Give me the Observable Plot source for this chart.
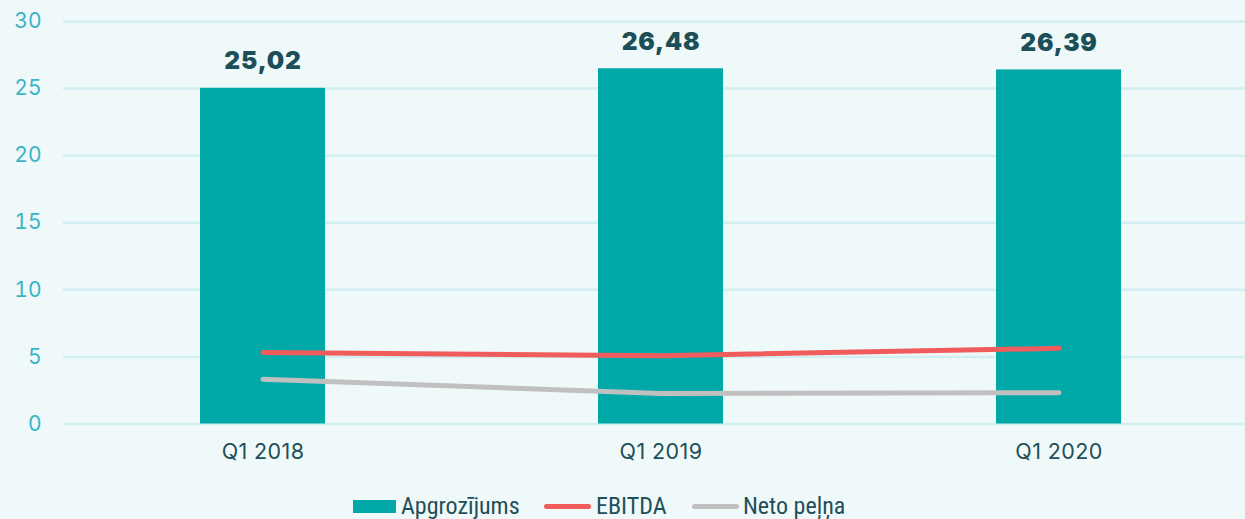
<!DOCTYPE html>
<html>
<head>
<meta charset="utf-8">
<script src="https://cdn.jsdelivr.net/npm/d3@7"></script>
<script src="https://cdn.jsdelivr.net/npm/@observablehq/plot@0.6"></script>
<style>
  html, body { margin: 0; padding: 0; background: #f0f9f9; }
  body { width: 1245px; height: 519px; overflow: hidden; font-family: Inter, "Noto Sans", sans-serif; }
  #legend { position: relative; height: 39px; font-size: 24px; color: #1f4f58; font-family: "Liberation Sans Narrow", "Roboto Condensed", Inter, sans-serif; }
  .item { display: flex; align-items: center; position: absolute; top: 12px; }
  .sw { display: inline-block; }
</style>
</head>
<body>
<div id="chart"></div>
<div id="legend"></div>
<script>
const categories = ["Q1 2018", "Q1 2019", "Q1 2020"];
const apgrozijums = [25.02, 26.48, 26.39];
const ebitda = [5.32, 5.09, 5.64];
const netoPelna = [3.34, 2.27, 2.33];
const barLabels = ["25,02", "26,48", "26,39"];
const yTicks = [0, 5, 10, 15, 20, 25, 30];
const seriesNames = ["Apgrozījums", "EBITDA", "Neto peļņa"];
const colors = ["#00a9a8", "#f05b5c", "#c0c0c0"];

const bars = categories.map((c, i) => ({cat: c, value: apgrozijums[i], label: barLabels[i]}));
const lineE = categories.map((c, i) => ({cat: c, value: ebitda[i]}));
const lineN = categories.map((c, i) => ({cat: c, value: netoPelna[i]}));

const H = 480;
const chart = Plot.plot({
  width: 1245,
  height: H,
  marginTop: 21,
  marginBottom: H - 423.5,
  marginLeft: 63,
  marginRight: 0,
  style: {background: "#f0f9f9", fontFamily: "Inter, 'Noto Sans', sans-serif", overflow: "visible"},
  x: {domain: categories, range: [63, 1257], paddingInner: 0.686, paddingOuter: 0.343, label: null},
  y: {domain: [0, 30], ticks: yTicks, label: null},
  marks: [
    Plot.ruleY(yTicks, {stroke: "#d2eef1", strokeWidth: 2.5}),
    Plot.barY(bars, {x: "cat", y: "value", fill: colors[0]}),
    Plot.text(bars, {x: "cat", y: "value", text: "label", dy: -27, fill: "#1d4f59", fontSize: 24.5, fontWeight: 900}),
    Plot.line(lineN, {x: "cat", y: "value", stroke: colors[2], strokeWidth: 5, strokeLinecap: "round"}),
    Plot.line(lineE, {x: "cat", y: "value", stroke: colors[1], strokeWidth: 5, strokeLinecap: "round"}),
    Plot.axisY({ticks: yTicks, tickSize: 0, tickPadding: 0, dx: -22, fill: "#3ab4c6", fontSize: 21, label: null}),
    Plot.axisX({tickSize: 0, tickPadding: 20, fill: "#1f4f58", fontSize: 21.5, label: null})
  ]
});
document.getElementById("chart").appendChild(chart);
chart.querySelectorAll("[aria-label='x-axis tick label'] text").forEach(t => t.style.letterSpacing = "0.4px");
chart.querySelectorAll("[aria-label='text'] text").forEach(t => t.style.letterSpacing = "0.8px");

const legend = document.getElementById("legend");
const specs = [
  {name: seriesNames[0], type: "rect", color: colors[0], w: 43, h: 13, gap: 5},
  {name: seriesNames[1], type: "line", color: colors[1], w: 47, h: 5, gap: 5},
  {name: seriesNames[2], type: "line", color: colors[2], w: 47, h: 5, gap: 4}
];
const itemLefts = [353, 544, 692];
specs.forEach((s, i) => {
  const it = document.createElement("div");
  it.className = "item";
  it.style.left = itemLefts[i] + "px";
  const sw = document.createElement("span");
  sw.className = "sw";
  sw.style.width = s.w + "px";
  sw.style.height = s.h + "px";
  sw.style.background = s.color;
  if (s.type === "line") sw.style.borderRadius = "3px";
  sw.style.marginRight = s.gap + "px";
  const tx = document.createElement("span");
  tx.textContent = s.name;
  it.appendChild(sw);
  it.appendChild(tx);
  legend.appendChild(it);
});
</script>
</body>
</html>
